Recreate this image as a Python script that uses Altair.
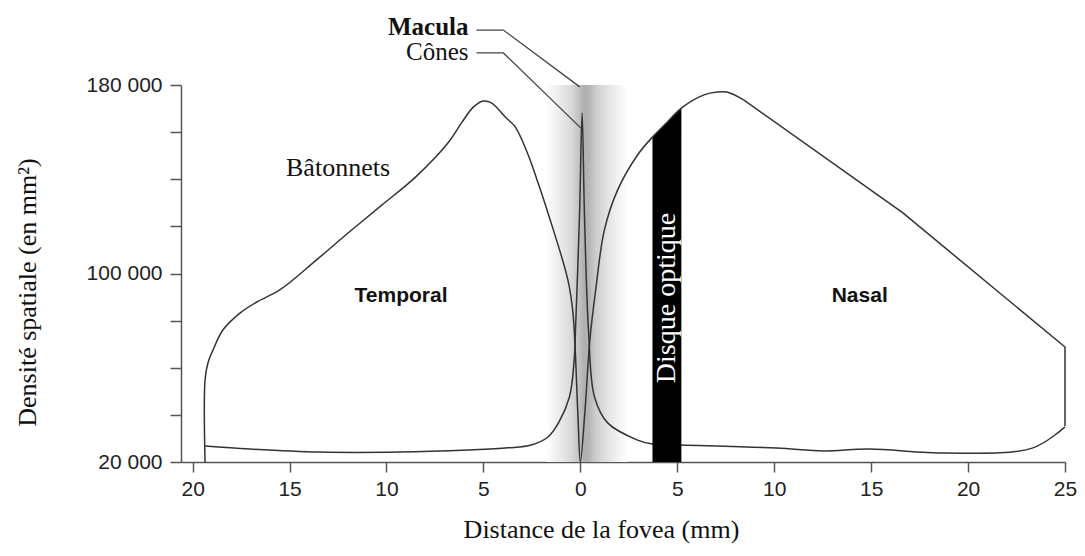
import altair as alt
import pandas as pd

# ---- data (x in mm: temporal < 0, nasal > 0) ----
rods_x = [-19.36, -19.36, -19.21, -18.95, -18.44, -17.56, -16.69, -15.51, -13.62,
          -11.92, -10.23, -8.49, -6.79, -6.13, -5.51, -5.0, -4.59, -3.82, -3.36,
          -2.69, -2.18, -1.67, -0.64, -0.38, -0.13, 0.0, 0.23, 0.49, 0.79, 1.24,
          1.92, 2.95, 3.72, 4.49, 5.21, 6.38, 7.05, 7.56, 8.44, 16.64, 25.0, 25.0]
rods_y = [20000, 54800, 62000, 67500, 76000, 83200, 87900, 93000, 105700,
          117600, 129100, 141000, 155800, 163900, 170700, 173200, 172400, 166000, 162200,
          150300, 138400, 125700, 97200, 83200, 40800, 20000, 40800, 71800, 93000, 118500,
          135400, 150300, 157900, 164300, 170200, 175800, 177000, 177000, 173600, 125700, 68800, 35300]
# index where the rods curve turns into straight segments (nasal decline)
rods_straight_from = 38

cones_x = [-19.36, -17.05, -13.46, -9.36, -5.77, -3.72, -2.54, -1.67, -1.1, -0.56,
           -0.33, -0.25, -0.04, 0.09, 0.21, 0.42, 0.73, 1.41, 2.95, 3.72, 5.21,
           10.13, 12.54, 14.9, 18.85, 23.31, 25.0]
cones_y = [26800, 25500, 24200, 24200, 25100, 26000, 27200, 30600, 37000, 47700,
           62000, 76000, 125700, 168100, 125700, 76000, 47600, 36600, 29300, 27600, 27200,
           25900, 24700, 25500, 23800, 25900, 34900]

disc_x = [3.72, 4.49, 5.21]
disc_top = [157900, 164300, 170200]
disc_base = [20000, 20000, 20000]

macula_x = [-1.75]
macula_x2 = [2.45]
macula_y = [20000]
macula_y2 = [180000]

macula_lead_x = [-5.36, -3.97, -0.03]
macula_lead_y = [203300, 203300, 179200]
cones_lead_x = [-5.36, -3.97, 0.03]
cones_lead_y = [193600, 193600, 161700]

top_labels = ["Macula", "Cônes"]
top_labels_x = [-5.77, -5.77]
top_labels_y = [204600, 194000]
top_labels_w = ["bold", "normal"]

rods_label = ["Bâtonnets"]
rods_label_x = [-12.5]
rods_label_y = [144800]

side_labels = ["Temporal", "Nasal"]
side_labels_x = [-9.25, 14.41]
side_labels_y = [90450, 90450]

disc_label = ["Disque optique"]
disc_label_x = [4.47]
disc_label_y = [89600]

x_ticks = [-20, -15, -10, -5, 0, 5, 10, 15, 20, 25]
y_ticks = [20000, 40000, 60000, 80000, 100000, 120000, 140000, 160000, 180000]

SERIF = "Liberation Serif"
SANS = "Liberation Sans"

xs = alt.Scale(domain=[-20.6, 25], nice=False, zero=False)
ys = alt.Scale(domain=[20000, 180000], nice=False, zero=False)

xaxis = alt.Axis(values=x_ticks, labelExpr="abs(datum.value)", grid=False,
                 title="Distance de la fovea (mm)", titleFont=SERIF, titleFontSize=26,
                 titleFontWeight="normal", titleColor="#111", titleX=420, titleY=75,
                 titleAlign="center", titleBaseline="alphabetic",
                 labelFont=SANS, labelFontSize=21, labelColor="#222", labelPadding=6,
                 domainColor="#555", domainWidth=1.5, tickColor="#555", tickWidth=1.5,
                 tickSize=10, labelFlush=False)
yaxis = alt.Axis(values=y_ticks,
                 labelExpr="datum.value % 80000 == 20000 ? replace(format(datum.value, ','), ',', ' ') : ''",
                 grid=False, title="Densité spatiale (en mm²)", titleFont=SERIF,
                 titleFontSize=26, titleFontWeight="normal", titleColor="#111",
                 titleAngle=270, titleX=-146, titleY=207, titleAlign="center",
                 titleBaseline="alphabetic",
                 labelFont=SANS, labelFontSize=21, labelColor="#222", labelPadding=8,
                 domainColor="#555", domainWidth=1.5, tickColor="#555", tickWidth=1.5,
                 tickSize=11, labelFlush=False)


def X(f="x"):
    return alt.X(f, type="quantitative", scale=xs, axis=xaxis)


def Y(f="y"):
    return alt.Y(f, type="quantitative", scale=ys, axis=yaxis)


rods = pd.DataFrame({"x": rods_x, "y": rods_y, "i": range(len(rods_x))})
rods_curve = rods[rods.i <= rods_straight_from]
rods_straight = rods[rods.i >= rods_straight_from]
cones = pd.DataFrame({"x": cones_x, "y": cones_y, "i": range(len(cones_x))})
disc = pd.DataFrame({"x": disc_x, "y": disc_top, "b": disc_base})
mac = pd.DataFrame({"x": macula_x, "x2": macula_x2, "y": macula_y, "y2": macula_y2})
mlead = pd.DataFrame({"x": macula_lead_x, "y": macula_lead_y, "i": range(3)})
clead = pd.DataFrame({"x": cones_lead_x, "y": cones_lead_y, "i": range(3)})
tl = pd.DataFrame({"x": top_labels_x, "y": top_labels_y, "t": top_labels, "w": top_labels_w})
rl = pd.DataFrame({"x": rods_label_x, "y": rods_label_y, "t": rods_label})
sl = pd.DataFrame({"x": side_labels_x, "y": side_labels_y, "t": side_labels})
dl = pd.DataFrame({"x": disc_label_x, "y": disc_label_y, "t": disc_label})

grad = {"gradient": "linear", "x1": 0, "x2": 1, "y1": 0, "y2": 0,
        "stops": [{"offset": 0.0, "color": "#ffffff"},
                  {"offset": 0.1, "color": "#f2f2f2"},
                  {"offset": 0.3, "color": "#dadada"},
                  {"offset": 0.4, "color": "#c2c2c2"},
                  {"offset": 0.46, "color": "#b0b0b0"},
                  {"offset": 0.52, "color": "#b4b4b4"},
                  {"offset": 0.6, "color": "#cbcbcb"},
                  {"offset": 0.75, "color": "#e3e3e3"},
                  {"offset": 0.9, "color": "#f5f5f5"},
                  {"offset": 1.0, "color": "#ffffff"}]}

macula_layer = alt.Chart(mac).mark_rect(fill=grad).encode(
    x=X("x"), x2="x2", y=Y("y"), y2="y2")

cones_layer = alt.Chart(cones).mark_line(color="#333", strokeWidth=1.5,
                                         interpolate="catmull-rom").encode(
    x=X(), y=Y(), order="i:Q")

disc_layer = alt.Chart(disc).mark_area(color="black", opacity=1).encode(
    x=X(), y=Y(), y2="b")

rods_layer_a = alt.Chart(rods_curve).mark_line(color="#333", strokeWidth=1.5,
                                               interpolate="catmull-rom").encode(
    x=X(), y=Y(), order="i:Q")
rods_layer_b = alt.Chart(rods_straight).mark_line(color="#333", strokeWidth=1.5).encode(
    x=X(), y=Y(), order="i:Q")

mlead_layer = alt.Chart(mlead).mark_line(color="#444", strokeWidth=1.3).encode(
    x=X(), y=Y(), order="i:Q")
clead_layer = alt.Chart(clead).mark_line(color="#444", strokeWidth=1.3).encode(
    x=X(), y=Y(), order="i:Q")

top_bold = alt.Chart(tl[tl.w == "bold"]).mark_text(
    font=SERIF, fontSize=25, fontWeight="bold", align="right", baseline="middle",
    color="#111").encode(x=X(), y=Y(), text="t:N")
top_norm = alt.Chart(tl[tl.w == "normal"]).mark_text(
    font=SERIF, fontSize=25, align="right", baseline="middle",
    color="#111").encode(x=X(), y=Y(), text="t:N")

rods_text = alt.Chart(rl).mark_text(
    font=SERIF, fontSize=26, align="center", baseline="middle",
    color="#111").encode(x=X(), y=Y(), text="t:N")

side_text = alt.Chart(sl).mark_text(
    font=SANS, fontSize=21, fontWeight="bold", align="center", baseline="middle",
    color="#111").encode(x=X(), y=Y(), text="t:N")

disc_text = alt.Chart(dl).mark_text(
    font=SERIF, fontSize=28, align="center", baseline="middle", angle=270,
    color="white").encode(x=X(), y=Y(), text="t:N")

chart = alt.layer(
    macula_layer, cones_layer, disc_layer, rods_layer_a, rods_layer_b,
    mlead_layer, clead_layer, top_bold, top_norm, rods_text, side_text, disc_text
).properties(
    width=884, height=377,
    autosize=alt.AutoSizeParams(type="none"),
    padding={"left": 173, "top": 77, "right": 12, "bottom": 82},
    background="white",
).configure_view(stroke=None)

chart.save("out.html", embed_options={"renderer": "svg", "actions": False})
